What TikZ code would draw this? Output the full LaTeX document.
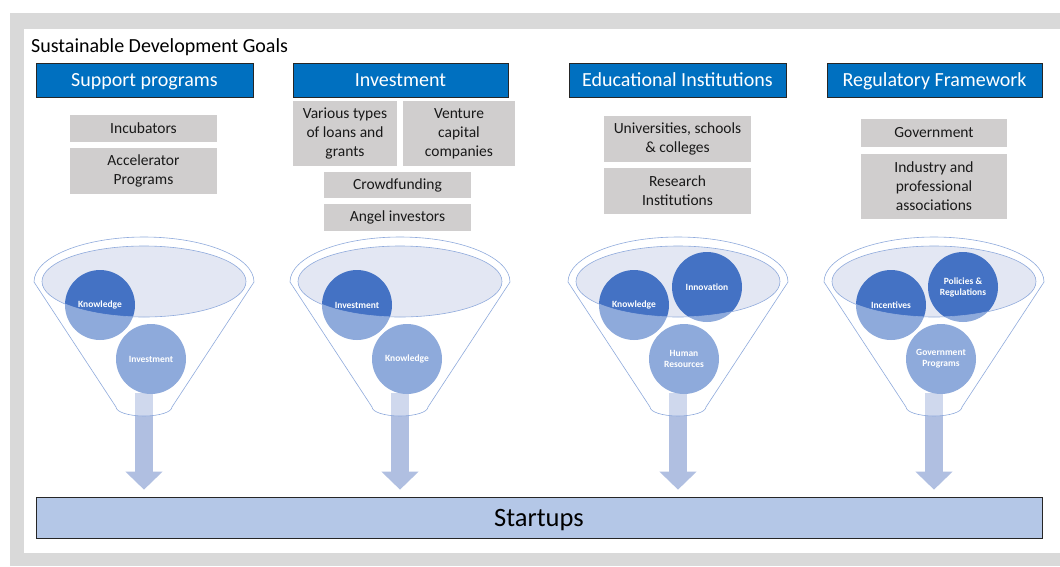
\documentclass[tikz,border=0pt]{standalone}
\usepackage{fontspec}
\setmainfont{Carlito}
\usetikzlibrary{arrows.meta,positioning}

\definecolor{headblue}{HTML}{0070C0}
\definecolor{boxgray}{HTML}{D0CECE}
\definecolor{panelgray}{HTML}{D9D9D9}
\definecolor{ballblue}{HTML}{4472C4}
\definecolor{rimblue}{HTML}{8FAADC}
\definecolor{mouthfill}{HTML}{E3E7F3}
\definecolor{flowblue}{HTML}{B0BFE1}
\definecolor{barblue}{HTML}{B4C7E7}

\begin{document}
\begin{tikzpicture}[x=1pt,y=-1pt,
  every node/.style={inner sep=0pt,align=center},
  headbox/.style={draw=black!85,line width=0.7pt,fill=headblue,text=white,
    minimum height=34pt,text height=13pt,text depth=0pt,
    font=\fontsize{20}{24}\selectfont},
  itembox/.style={fill=boxgray,text=black!90,font=\fontsize{15.5}{19}\selectfont},
  ball/.style={circle,fill=ballblue,minimum size=70pt,text=white,
    font=\fontsize{9.5}{11}\selectfont\bfseries},
  flow/.style={draw=flowblue,line width=18pt,-{Triangle[width=36pt,length=18pt]},
    shorten >=7pt},
  rim/.style={draw=rimblue,line width=0.6pt}]
  \useasboundingbox (0,0) rectangle (1060,566);
  % frame
  \fill[panelgray] (10,13) rectangle (1060,566);
  \fill[white] (24,29) rectangle (1060,553);
  \node[anchor=base west,font=\fontsize{20}{24}\selectfont] (sdg) at (31,52) {Sustainable Development Goals};
  % headers
  \node[headbox,minimum width=217pt] (sup) at (144.5,80) {Support programs};
  \node[headbox,minimum width=215pt] (inv) at (400.5,80) {Investment};
  \node[headbox,minimum width=217pt] (edu) at (677.5,80) {Educational Institutions};
  \node[headbox,minimum width=215pt] (reg) at (934.5,80) {Regulatory Framework};
  % support programs
  \node[itembox,minimum width=147pt,minimum height=27pt] (incub) at (143.5,128.5) {Incubators};
  \node[itembox,minimum width=147pt,minimum height=46pt] (accel) at (143.5,171) {Accelerator\\Programs};
  % investment
  \node[itembox,minimum width=104pt,minimum height=65pt] (loans) at (345,133.5) {Various types\\of loans and\\grants};
  \node[itembox,minimum width=112pt,minimum height=65pt] (venture) at (459,133.5) {Venture\\capital\\companies};
  \node[itembox,minimum width=147pt,minimum height=26pt] (crowd) at (397.5,185) {Crowdfunding};
  \node[itembox,minimum width=147pt,minimum height=27pt] (angel) at (397.5,217.5) {Angel investors};
  % educational institutions
  \node[itembox,minimum width=147pt,minimum height=46pt] (univ) at (677.5,139) {Universities, schools\\\& colleges};
  \node[itembox,minimum width=147pt,minimum height=46pt] (resinst) at (677.5,191) {Research\\Institutions};
  % regulatory framework
  \node[itembox,minimum width=146pt,minimum height=28pt] (govt) at (934,133) {Government};
  \node[itembox,minimum width=146pt,minimum height=65pt] (assoc) at (934,186.5) {Industry and\\professional\\associations};
  % startups
  \node[draw=black!85,line width=0.7pt,fill=barblue,minimum width=1006pt,minimum height=41pt,
    text height=17pt,text depth=0pt,font=\fontsize{26.5}{30}\selectfont] (start) at (539,517.5) {Startups};
  % funnel mouths and flows
  \foreach \cx/\i in {144/a,400/b,678/c,934/d} {
    \fill[mouthfill] (\cx,281.5) ellipse [x radius=102,y radius=35.5];
    \coordinate (spout\i) at (\cx,393);
    \draw[flow] (spout\i) -- (spout\i |- start.north);
  }
  % balls
  \node[ball] (a1) at (100,305) {Knowledge};
  \node[ball] (a2) at (151,359) {Investment};
  \node[ball] (b1) at (357,305) {Investment};
  \node[ball] (b2) at (407,359) {Knowledge};
  \node[ball] (c1) at (634,305) {Knowledge};
  \node[ball] (c2) at (707,287) {Innovation};
  \node[ball] (c3) at (684,359) {Human\\Resources};
  \node[ball] (d1) at (891,305) {Incentives};
  \node[ball] (d2) at (963,287) {Policies \&\\Regulations};
  \node[ball] (d3) at (941,359) {Government\\Programs};
  % funnel bodies
  \foreach \cx in {144,400,678,934} {
    \fill[white,fill opacity=0.4,even odd rule]
      (\cx-110,282) arc [start angle=180,end angle=360,x radius=110,y radius=45]
      -- (\cx+28,407) arc [start angle=0,end angle=180,x radius=28,y radius=9] -- cycle
      (\cx,281.5) ellipse [x radius=102,y radius=35.5];
    \draw[rim] (\cx-110,282) arc [start angle=180,end angle=360,x radius=110,y radius=45]
      -- (\cx+28,407) arc [start angle=0,end angle=180,x radius=28,y radius=9] -- cycle;
    \draw[rim] (\cx,281.5) ellipse [x radius=102,y radius=35.5];
  }
\end{tikzpicture}
\end{document}
